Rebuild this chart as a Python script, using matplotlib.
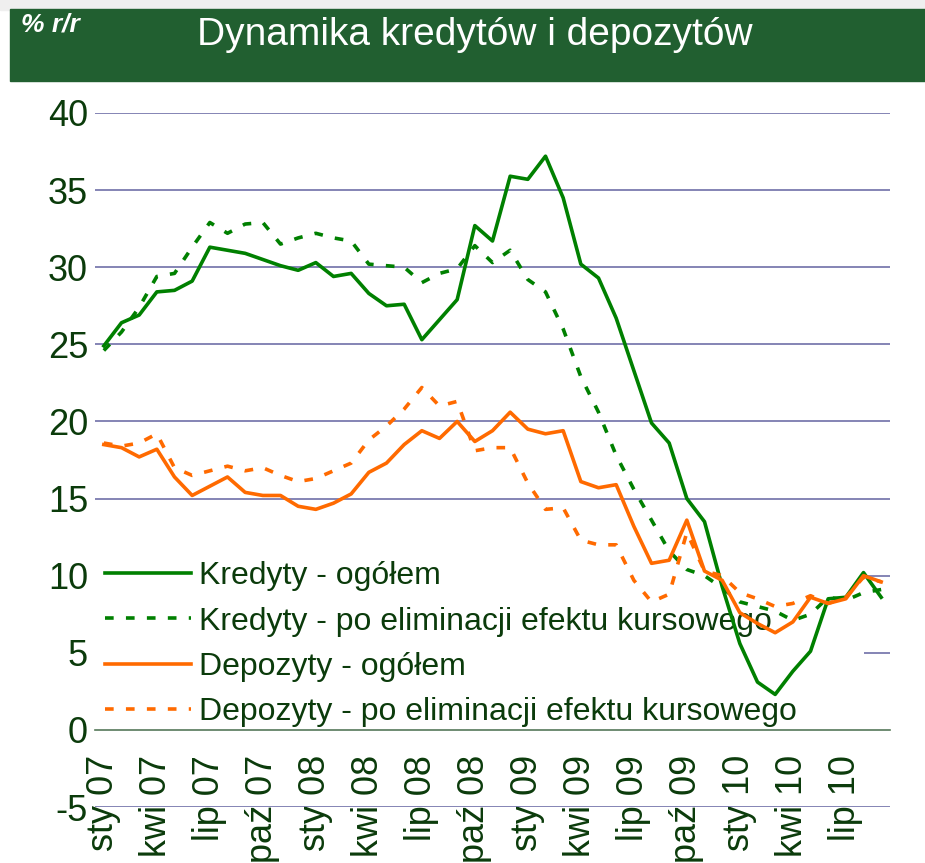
import numpy as np
import matplotlib.pyplot as plt
from matplotlib.patches import Rectangle

plt.rcParams['font.family'] = ['Liberation Sans', 'DejaVu Sans']
plt.rcParams['axes.unicode_minus'] = False

# miesięczne dane r/r, sty 2007 - wrz 2010
kredyty = [24.9, 26.4, 26.9, 28.4, 28.5, 29.1, 31.3, 31.1, 30.9, 30.5,
           30.1, 29.8, 30.3, 29.4, 29.6, 28.3, 27.5, 27.6, 25.3, 26.6,
           27.9, 32.7, 31.7, 35.9, 35.7, 37.2, 34.5, 30.2, 29.3, 26.7,
           23.3, 19.9, 18.6, 15.0, 13.5, 9.3, 5.6, 3.1, 2.3, 3.8,
           5.1, 8.5, 8.6, 10.2, 8.6]
kredyty_el = [24.6, 25.8, 27.4, 29.4, 29.6, 31.3, 32.9, 32.2, 32.8, 32.9,
              31.5, 31.9, 32.2, 31.9, 31.7, 30.2, 30.1, 30.0, 29.0, 29.6,
              29.9, 31.4, 30.3, 31.1, 29.2, 28.4, 26.0, 22.9, 20.6, 17.8,
              15.6, 13.6, 11.6, 10.4, 10.0, 9.2, 8.3, 8.0, 7.7, 7.1,
              7.5, 8.6, 8.4, 8.9, 9.1]
depozyty = [18.5, 18.3, 17.7, 18.2, 16.4, 15.2, 15.8, 16.4, 15.4, 15.2,
            15.2, 14.5, 14.3, 14.7, 15.3, 16.7, 17.3, 18.5, 19.4, 18.9,
            20.0, 18.7, 19.4, 20.6, 19.5, 19.2, 19.4, 16.1, 15.7, 15.9,
            13.2, 10.8, 11.0, 13.6, 10.3, 9.7, 7.6, 6.9, 6.3, 7.0,
            8.6, 8.2, 8.5, 10.0, 9.6]
depozyty_el = [18.6, 18.4, 18.6, 19.2, 17.0, 16.5, 16.8, 17.1, 16.8, 17.0,
               16.5, 16.1, 16.3, 16.8, 17.3, 18.8, 19.7, 20.8, 22.2, 21.0,
               21.3, 18.1, 18.3, 18.3, 16.0, 14.3, 14.4, 12.3, 12.0, 12.0,
               9.7, 8.3, 8.8, 12.8, 10.3, 10.0, 8.9, 8.5, 8.0, 8.2,
               8.7, 8.2, 8.6, 9.9, 9.6]

xlabels = ['sty 07', 'kwi 07', 'lip 07', 'paź 07',
           'sty 08', 'kwi 08', 'lip 08', 'paź 08',
           'sty 09', 'kwi 09', 'lip 09', 'paź 09',
           'sty 10', 'kwi 10', 'lip 10']

green = '#008000'
orange = '#FF6A00'
txt = '#0B3B0B'
dash = (2.4, 3.4)

fig = plt.figure(figsize=(9.25, 8.63), dpi=100)

# belka tytułowa
fig.patches.append(Rectangle((0, 1 - 10/863), 1, 10/863, transform=fig.transFigure,
                             color='#EFEFEF', zorder=0))
fig.patches.append(Rectangle((10/925, 1 - 81/863), 1, 72/863, transform=fig.transFigure,
                             color='#215F30', zorder=1))
fig.text(475/925, 1 - 35/863, 'Dynamika kredytów i depozytów', ha='center', va='center',
         color='white', fontsize=28)
fig.text(21/925, 1 - 24/863, '% r/r', ha='left', va='center', color='white',
         fontsize=19, fontweight='bold', style='italic')

ax = fig.add_axes([95/925, 1 - 807/863, 795/925, 694/863])
x = np.arange(len(kredyty))

ax.plot(x, kredyty, color=green, lw=2.6, label='Kredyty - ogółem', zorder=3)
ax.plot(x, kredyty_el, color=green, lw=2.6, dashes=dash,
        label='Kredyty - po eliminacji efektu kursowego', zorder=3)
ax.plot(x, depozyty, color=orange, lw=2.6, label='Depozyty - ogółem', zorder=3)
ax.plot(x, depozyty_el, color=orange, lw=2.6, dashes=dash,
        label='Depozyty - po eliminacji efektu kursowego', zorder=3)

ax.set_xlim(-0.5, len(x) - 0.5)
ax.set_ylim(-5, 40)
ax.set_yticks(range(-5, 41, 5))
ax.yaxis.grid(True, color='#7B7BAF', lw=1.3)
ax.set_axisbelow(True)
for s in ['left', 'right', 'top']:
    ax.spines[s].set_visible(False)
ax.spines['bottom'].set_position(('data', 0))
ax.spines['bottom'].set_color('#6F8F6F')
ax.spines['bottom'].set_linewidth(1.3)
ax.tick_params(axis='both', length=0, colors=txt)
ax.tick_params(axis='y', labelsize=26, pad=5)
ax.tick_params(axis='x', labelsize=26, pad=18)
ax.set_xticks(x[::3])
ax.set_xticklabels(xlabels, rotation=90)

# białe tło legendy zasłania linie siatki
ax.add_patch(Rectangle((-0.5, 0.15), 43.5, 11.6, facecolor='white', edgecolor='none',
                       zorder=1.5))
leg = ax.legend(loc='lower left', bbox_to_anchor=(0.0126, 0.115), frameon=False,
                fontsize=23, handlelength=2.7, handletextpad=0.25, labelspacing=0.48,
                borderaxespad=0, borderpad=0, labelcolor=txt)
leg.set_zorder(2.5)

fig.savefig('out.png', dpi=100)
